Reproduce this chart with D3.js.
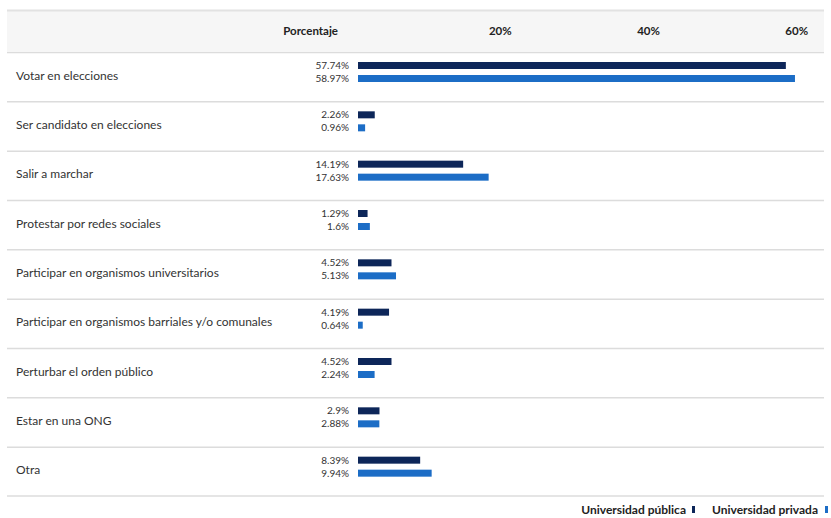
<!DOCTYPE html>
<html>
<head>
<meta charset="utf-8">
<script src="https://cdn.jsdelivr.net/npm/d3@7"></script>
<style>
  html, body { margin: 0; padding: 0; background: #fff; }
  svg { display: block; font-family: Lato, "Open Sans", sans-serif; }
</style>
</head>
<body>
<svg id="chart" width="831" height="518"></svg>
<script>
// Formas de participación política por tipo de universidad (%)
const categories = [
  "Votar en elecciones",
  "Ser candidato en elecciones",
  "Salir a marchar",
  "Protestar por redes sociales",
  "Participar en organismos universitarios",
  "Participar en organismos barriales y/o comunales",
  "Perturbar el orden público",
  "Estar en una ONG",
  "Otra"
];
const publica = [57.74, 2.26, 14.19, 1.29, 4.52, 4.19, 4.52, 2.9, 8.39];
const privada = [58.97, 0.96, 17.63, 1.6, 5.13, 0.64, 2.24, 2.88, 9.94];
const tickValues = [20, 40, 60];
const seriesNames = ["Universidad pública", "Universidad privada"];
const colors = ["#0d2659", "#1c6dc6"];

const svg = d3.select("#chart");
const left = 7, right = 824;
const fmt = v => String(v) + "%";

const x = d3.scaleLinear().domain([0, 60]).range([358, 802.6]);
const y = d3.scaleBand().domain(categories).range([52, 496]).padding(0);

// header band
svg.append("rect").attr("x", left).attr("y", 11).attr("width", right - left).attr("height", 40)
  .attr("fill", "#f6f6f6");
svg.append("line").attr("x1", left).attr("x2", right).attr("y1", 10.5).attr("y2", 10.5)
  .attr("stroke", "#e2e2e2").attr("stroke-width", 2);

svg.append("text").attr("x", 338).attr("y", 35).attr("text-anchor", "end")
  .attr("font-size", 11.5).attr("font-weight", 700).attr("fill", "#222").text("Porcentaje");

const axis = d3.axisTop(x).tickValues(tickValues).tickFormat(fmt).tickSize(0);
const gAxis = svg.append("g").attr("transform", "translate(0,35)").call(axis);
gAxis.select(".domain").remove();
gAxis.selectAll("text")
  .attr("y", 0).attr("dy", 0).attr("dx", 5)
  .attr("text-anchor", "end")
  .attr("font-family", "Lato, 'Open Sans', sans-serif")
  .attr("font-size", 11.5).attr("font-weight", 700).attr("fill", "#222");

// row separators
svg.append("g").selectAll("line")
  .data(categories)
  .join("line")
  .attr("x1", left).attr("x2", right)
  .attr("y1", d => y(d) + 0.5).attr("y2", d => y(d) + 0.5)
  .attr("stroke", "#dcdcdc").attr("stroke-width", 1.5);
svg.append("line").attr("x1", left).attr("x2", right)
  .attr("y1", 496).attr("y2", 496)
  .attr("stroke", "#dcdcdc").attr("stroke-width", 1.5);

const rows = svg.append("g").selectAll("g")
  .data(categories)
  .join("g")
  .attr("transform", d => `translate(0,${y(d)})`);

rows.append("text")
  .attr("x", 16).attr("y", 27.5)
  .attr("font-size", 12).attr("fill", "#333")
  .text(d => d);

const barH = 7;
const series = [publica, privada];
const offsets = [10, 23];

series.forEach((vals, s) => {
  rows.append("rect")
    .attr("x", x(0))
    .attr("y", offsets[s])
    .attr("width", (d, i) => x(vals[i]) - x(0))
    .attr("height", barH)
    .attr("fill", colors[s]);
  rows.append("text")
    .attr("x", 349)
    .attr("y", offsets[s] + 7)
    .attr("text-anchor", "end")
    .attr("font-size", 10)
    .attr("fill", "#333")
    .text((d, i) => fmt(vals[i]));
});

// legend
const legend = svg.append("g").attr("transform", "translate(0,514)");
const legendItems = [
  { name: seriesNames[0], textX: 686, markX: 692 },
  { name: seriesNames[1], textX: 818, markX: 825 }
];
legendItems.forEach((it, s) => {
  legend.append("text").attr("x", it.textX).attr("y", 0).attr("text-anchor", "end")
    .attr("font-size", 12).attr("font-weight", 700).attr("fill", "#222").text(it.name);
  legend.append("rect").attr("x", it.markX).attr("y", -8).attr("width", 3).attr("height", 7)
    .attr("fill", colors[s]);
});
</script>
</body>
</html>
